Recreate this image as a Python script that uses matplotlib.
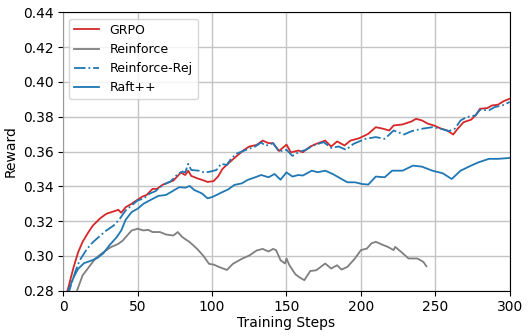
import matplotlib
matplotlib.use("Agg")
import matplotlib.pyplot as plt

# values
grpo_steps = [2, 7, 10, 13, 17, 20, 25, 29, 34, 37, 39, 42, 46, 50, 53, 56, 60, 63, 67, 70,
              74, 77, 79, 82, 84, 86, 90, 94, 97, 101, 104, 107, 112, 116, 121, 125, 130, 134,
              138, 141, 145, 150, 153, 158, 161, 166, 170, 176, 180, 184, 189, 193, 199, 205,
              210, 215, 219, 222, 228, 234, 237, 241, 245, 249, 254, 258, 262, 265, 269, 274,
              277, 280, 285, 288, 292, 296, 300]
grpo = [0.277, 0.2935, 0.302, 0.308, 0.3137, 0.3175, 0.3217, 0.3242, 0.3256, 0.3265, 0.3248,
        0.328, 0.330, 0.3323, 0.334, 0.335, 0.3385, 0.3385, 0.341, 0.342, 0.3433, 0.346, 0.3479,
        0.3465, 0.349, 0.346, 0.3446, 0.3435, 0.3425, 0.343, 0.3456, 0.350, 0.354, 0.357,
        0.3606, 0.3629, 0.3638, 0.3663, 0.3648, 0.3648, 0.3603, 0.364, 0.3595, 0.3606, 0.3596,
        0.3629, 0.3644, 0.3663, 0.3629, 0.3658, 0.3635, 0.3663, 0.3677, 0.3702, 0.374, 0.3731,
        0.3721, 0.375, 0.3756, 0.3773, 0.3788, 0.3779, 0.376, 0.375, 0.3731, 0.3721, 0.3698,
        0.3731, 0.3769, 0.3783, 0.3808, 0.3846, 0.385, 0.3865, 0.3869, 0.389, 0.3904]

reinforce_steps = [8, 13, 18, 22, 27, 32, 37, 40, 44, 46, 50, 54, 57, 60, 65, 69, 74, 77, 80,
                   85, 90, 94, 98, 101, 105, 110, 114, 120, 125, 130, 134, 138, 141, 143, 146,
                   149, 150, 152, 156, 159, 162, 166, 170, 176, 180, 184, 187, 191, 196, 200,
                   204, 207, 210, 215, 218, 222, 223, 227, 232, 235, 238, 242, 244]
reinforce = [0.277, 0.2887, 0.2944, 0.2988, 0.3021, 0.305, 0.3069, 0.3088, 0.3127, 0.3146,
             0.3156, 0.3146, 0.315, 0.3137, 0.3137, 0.3123, 0.3117, 0.3137, 0.3108, 0.3079,
             0.304, 0.3002, 0.2954, 0.295, 0.2935, 0.2919, 0.2954, 0.2983, 0.3002, 0.3031,
             0.304, 0.3025, 0.304, 0.3033, 0.2975, 0.2956, 0.2985, 0.2946, 0.2894, 0.2875,
             0.286, 0.2913, 0.2917, 0.2956, 0.2927, 0.2946, 0.2921, 0.2937, 0.2985, 0.3033,
             0.3042, 0.3071, 0.3081, 0.3062, 0.3052, 0.3033, 0.3052, 0.3023, 0.2985, 0.2985,
             0.2985, 0.2965, 0.294]

rej_steps = [3, 8, 11, 16, 20, 25, 29, 34, 38, 42, 46, 50, 54, 58, 62, 67, 72, 77, 80, 82, 84,
             86, 91, 95, 99, 103, 106, 110, 113, 117, 123, 129, 133, 136, 141, 145, 150, 154,
             158, 163, 168, 175, 180, 185, 190, 195, 203, 210, 216, 222, 229, 234, 241, 248,
             254, 259, 263, 267, 271, 277, 280, 286, 290, 295, 300]
rej = [0.277, 0.2906, 0.2973, 0.304, 0.3079, 0.3117, 0.3146, 0.3175, 0.3213, 0.3262, 0.329,
       0.3319, 0.3329, 0.3358, 0.3372, 0.3408, 0.3427, 0.3471, 0.3485, 0.348, 0.3529, 0.3494,
       0.349, 0.3479, 0.3485, 0.3494, 0.3529, 0.3523, 0.3562, 0.359, 0.361, 0.3629, 0.3652,
       0.3633, 0.3648, 0.360, 0.361, 0.3575, 0.3596, 0.361, 0.3635, 0.3654, 0.3621, 0.3629,
       0.361, 0.3644, 0.3673, 0.3683, 0.3673, 0.3721, 0.3698, 0.3717, 0.3731, 0.374, 0.3731,
       0.3717, 0.3731, 0.3779, 0.3798, 0.3808, 0.384, 0.3837, 0.3856, 0.3865, 0.3885]

raft_steps = [2, 7, 10, 14, 19, 23, 27, 31, 36, 39, 42, 46, 50, 54, 59, 64, 69, 74, 78, 82,
              85, 88, 93, 97, 100, 103, 106, 111, 115, 120, 124, 129, 133, 138, 142, 146, 150,
              154, 158, 161, 167, 171, 176, 181, 187, 191, 196, 201, 205, 210, 216, 221, 228,
              235, 241, 248, 255, 261, 267, 274, 279, 286, 292, 300]
raft = [0.277, 0.2877, 0.2925, 0.2958, 0.2973, 0.2988, 0.3015, 0.306, 0.3108, 0.3146, 0.3208,
        0.3252, 0.3271, 0.330, 0.3323, 0.3345, 0.335, 0.3375, 0.3395, 0.3392, 0.3402, 0.3379,
        0.336, 0.3331, 0.3338, 0.335, 0.3363, 0.3383, 0.3408, 0.3417, 0.3437, 0.3452, 0.3465,
        0.3452, 0.3471, 0.3438, 0.348, 0.3456, 0.3465, 0.3462, 0.349, 0.3481, 0.349, 0.3471,
        0.3442, 0.3423, 0.3423, 0.3413, 0.341, 0.3456, 0.3452, 0.349, 0.349, 0.3519, 0.3513,
        0.349, 0.3475, 0.3442, 0.349, 0.3519, 0.3538, 0.3558, 0.3558, 0.3563]

fig, ax = plt.subplots(figsize=(5.31, 3.36), dpi=100)
fig.subplots_adjust(left=0.119, right=0.960, bottom=0.135, top=0.963)

ax.plot(grpo_steps, grpo, color="tab:red", lw=1.3, label="GRPO")
ax.plot(reinforce_steps, reinforce, color="tab:gray", lw=1.3, label="Reinforce")
ax.plot(rej_steps, rej, color="tab:blue", lw=1.3, linestyle="-.", label="Reinforce-Rej")
ax.plot(raft_steps, raft, color="tab:blue", lw=1.3, label="Raft++")

ax.set_xlim(0, 300)
ax.set_ylim(0.28, 0.44)
ax.set_yticks([0.28, 0.30, 0.32, 0.34, 0.36, 0.38, 0.40, 0.42, 0.44])
ax.yaxis.set_major_formatter(plt.FuncFormatter(lambda v, _: f"{v:.2f}"))
ax.grid(True, color="#c4c4c4", lw=1.0)
ax.spines["left"].set_color("#999999")
ax.set_xlabel("Training Steps", fontsize=10, labelpad=1)
ax.set_ylabel("Reward", fontsize=10)
ax.tick_params(labelsize=10)
ax.legend(loc="upper left", fontsize=9)

fig.savefig("out.png")
